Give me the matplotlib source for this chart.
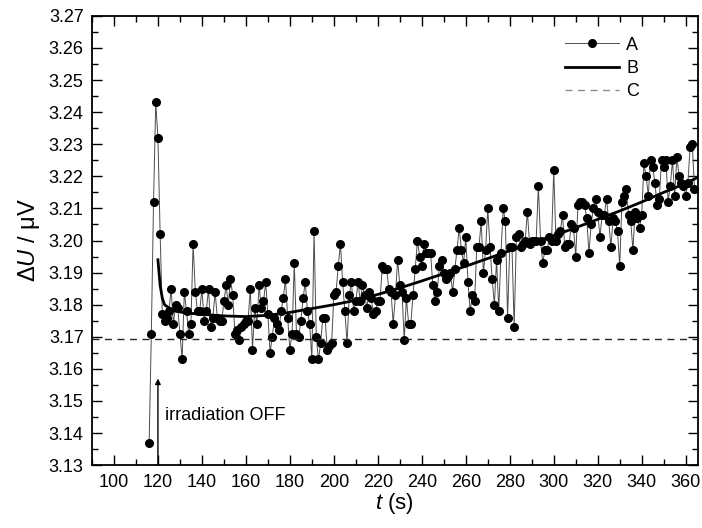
import matplotlib as mpl
mpl.use('Agg')
import numpy as np
import matplotlib.pyplot as plt
import matplotlib.ticker as mticker

plt.rcParams['font.family'] = ['Liberation Sans', 'DejaVu Sans']
plt.rcParams['mathtext.fontset'] = 'custom'
plt.rcParams['mathtext.it'] = 'Liberation Sans:italic'
plt.rcParams['mathtext.rm'] = 'Liberation Sans'

## data A: measured signal, one sample per second from t=116 s
T_START = 116
T_STEP = 1.0
A_VALS = [
    3.137, 3.171, 3.212, 3.243, 3.232, 3.202, 3.177, 3.175, 3.176, 3.178,  # 116-125
    3.185, 3.174, 3.180, 3.179, 3.171, 3.163, 3.184, 3.178, 3.171, 3.174,  # 126-135
    3.199, 3.184, 3.178, 3.178, 3.185, 3.175, 3.178, 3.185, 3.173, 3.176,  # 136-145
    3.184, 3.176, 3.175, 3.175, 3.181, 3.186, 3.180, 3.188, 3.183, 3.171,  # 146-155
    3.172, 3.169, 3.173, 3.174, 3.175, 3.175, 3.185, 3.166, 3.179, 3.174,  # 156-165
    3.186, 3.179, 3.181, 3.187, 3.177, 3.165, 3.170, 3.176, 3.174, 3.172,  # 166-175
    3.178, 3.182, 3.188, 3.176, 3.166, 3.171, 3.193, 3.171, 3.170, 3.175,  # 176-185
    3.182, 3.187, 3.178, 3.174, 3.163, 3.203, 3.170, 3.163, 3.168, 3.176,  # 186-195
    3.176, 3.166, 3.167, 3.168, 3.183, 3.184, 3.192, 3.199, 3.187, 3.178,  # 196-205
    3.168, 3.183, 3.187, 3.178, 3.181, 3.187, 3.181, 3.186, 3.183, 3.179,  # 206-215
    3.184, 3.182, 3.177, 3.178, 3.181, 3.181, 3.192, 3.191, 3.191, 3.185,  # 216-225
    3.184, 3.174, 3.183, 3.194, 3.186, 3.184, 3.169, 3.182, 3.174, 3.174,  # 226-235
    3.183, 3.191, 3.200, 3.195, 3.192, 3.199, 3.196, 3.196, 3.196, 3.186,  # 236-245
    3.181, 3.184, 3.192, 3.194, 3.190, 3.188, 3.189, 3.190, 3.184, 3.191,  # 246-255
    3.197, 3.204, 3.197, 3.193, 3.201, 3.187, 3.178, 3.183, 3.181, 3.198,  # 256-265
    3.198, 3.206, 3.190, 3.197, 3.210, 3.198, 3.188, 3.180, 3.194, 3.178,  # 266-275
    3.196, 3.210, 3.206, 3.176, 3.198, 3.198, 3.173, 3.201, 3.202, 3.198,  # 276-285
    3.199, 3.200, 3.209, 3.199, 3.200, 3.200, 3.200, 3.217, 3.200, 3.193,  # 286-295
    3.197, 3.197, 3.201, 3.200, 3.222, 3.200, 3.202, 3.203, 3.208, 3.198,  # 296-305
    3.199, 3.199, 3.205, 3.204, 3.195, 3.211, 3.212, 3.212, 3.211, 3.207,  # 306-315
    3.196, 3.205, 3.210, 3.213, 3.209, 3.201, 3.208, 3.208, 3.213, 3.206,  # 316-325
    3.198, 3.207, 3.206, 3.203, 3.192, 3.212, 3.214, 3.216, 3.208, 3.206,  # 326-335
    3.197, 3.209, 3.207, 3.204, 3.208, 3.224, 3.220, 3.214, 3.225, 3.223,  # 336-345
    3.218, 3.211, 3.213, 3.225, 3.223, 3.225, 3.212, 3.217, 3.225, 3.214,  # 346-355
    3.226, 3.220, 3.218, 3.217, 3.214, 3.218, 3.229, 3.230, 3.216,         # 356-364
]

## data B: fitted curve (read at selected times)
B_T = [120, 121, 122, 123, 125, 128, 132, 140, 150, 160, 170, 180, 190, 200,
       210, 220, 230, 240, 250, 260, 270, 280, 290, 300, 310, 320, 330, 340,
       350, 360, 365]
B_VALS = [3.194, 3.186, 3.182, 3.180, 3.179, 3.178, 3.1775, 3.177, 3.1765,
          3.1763, 3.1767, 3.1776, 3.1788, 3.1800, 3.1814, 3.1832, 3.1852,
          3.1874, 3.1897, 3.1920, 3.1944, 3.1968, 3.1993, 3.2015, 3.2040,
          3.2066, 3.2092, 3.2120, 3.2150, 3.2178, 3.2195]

## data C: baseline level
C_LEVEL = 3.1693

t_a = T_START + np.arange(len(A_VALS)) * T_STEP

fig = plt.figure(figsize=(7.02, 5.28), dpi=100)
ax = fig.add_axes([0.131, 0.119, 0.863, 0.851])

ax.plot(t_a, A_VALS, '-', color='0.3', lw=0.7, marker='o', ms=5.5,
        mfc='black', mec='black', label='A')
ax.plot(B_T, B_VALS, '-', color='black', lw=2.0, label='B')
ax.axhline(C_LEVEL, color='0.15', lw=1.0, ls=(0, (5, 4)), label='C')

# arrow + label
ax.annotate('', xy=(120, 3.157), xytext=(120, 3.13),
            arrowprops=dict(arrowstyle='-|>', color='black', lw=1.0,
                            mutation_scale=8, shrinkA=0, shrinkB=0))
ax.text(123, 3.1455, 'irradiation OFF', fontsize=13, va='center', ha='left')

ax.set_xlim(90, 365.5)
ax.set_ylim(3.13, 3.27)
ax.xaxis.set_major_locator(mticker.MultipleLocator(20))
ax.xaxis.set_minor_locator(mticker.MultipleLocator(10))
ax.yaxis.set_major_locator(mticker.MultipleLocator(0.01))
ax.yaxis.set_minor_locator(mticker.MultipleLocator(0.005))
ax.yaxis.set_major_formatter(mticker.FormatStrFormatter('%.2f'))
ax.tick_params(which='both', direction='in', top=True, right=True,
               labelsize=13, width=1.0)
ax.tick_params(which='major', length=7, pad=6)
ax.tick_params(which='minor', length=4)
for s in ax.spines.values():
    s.set_linewidth(1.3)

ax.set_xlabel('$t$ (s)', fontsize=16, labelpad=0)
ax.set_ylabel('Δ$U$ / μV', fontsize=17, labelpad=5)

leg = ax.legend(loc='upper right', frameon=False, fontsize=13,
                bbox_to_anchor=(0.93, 0.99), handlelength=3.0,
                handletextpad=0.4, labelspacing=0.35)
leg.get_lines()[2].set_color('0.55')

plt.savefig('out.png', dpi=100)
plt.close()
